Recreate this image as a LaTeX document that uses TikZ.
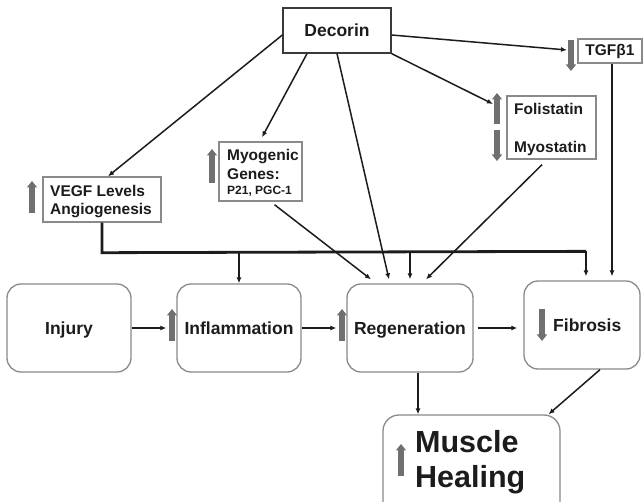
\documentclass[tikz,border=0pt]{standalone}
\usepackage{fontspec}
\setmainfont{Liberation Sans}
\usetikzlibrary{arrows.meta,calc}
\definecolor{ink}{HTML}{1C1C1C}
\definecolor{edgegray}{HTML}{8A8A8A}
\definecolor{boxdark}{HTML}{3A3A3A}
\definecolor{arrowgray}{HTML}{707070}
\newcommand\fsmid{\fontsize{15.5}{18}\selectfont}
\newcommand\fsbig{\fontsize{17.5}{20}\selectfont}
\newcommand\fssmall{\fontsize{12}{14}\selectfont}
\newcommand\fshuge{\fontsize{30.5}{34}\selectfont}
\begin{document}
\begin{tikzpicture}[x=1pt,y=-1pt,
  lbl/.style={font=\bfseries\fsmid, text=ink, inner sep=0pt, anchor=base west},
  sq/.style={draw=edgegray, line width=1.4pt, fill=white, inner sep=0pt},
  rnd/.style={draw=edgegray, line width=1.3pt, rounded corners=14pt, fill=white,
    minimum width=124pt, minimum height=88pt, inner sep=0pt,
    font=\bfseries\fsbig, text=ink, text height=12.5pt, text depth=0pt},
  conn/.style={draw=ink, line width=1.5pt, -{Latex[length=6pt,width=5pt]}},
  bus/.style={draw=ink, line width=2.8pt},
  blk/.style={draw=arrowgray, line width=5.5pt, -{Triangle[width=10pt,length=6.5pt]}},
]
\useasboundingbox (0,0) rectangle (643,502);
\clip (0,0) rectangle (643,502);
\fill[white] (0,0) rectangle (643,502);

% top row of factor boxes
\node[sq, draw=boxdark, line width=1.3pt, minimum width=108pt, minimum height=45pt,
      font=\bfseries\fsbig, text=ink] (dec) at (337,30.5) {Decorin};
\node[sq, minimum width=64pt, minimum height=24pt, font=\bfseries\fsmid, text=ink]
      (tgf) at (610,51) {TGFβ1};
\node[sq, minimum width=89pt, minimum height=63pt] (fol) at (551.5,127.5) {};
\node[lbl] (folt) at (514,114.5) {Folistatin};
\node[lbl] (myot) at (514,152.5) {Myostatin};
\node[sq, minimum width=83pt, minimum height=59pt] (myo) at (260.5,171.5) {};
\node[lbl] (myot1) at (227,161) {Myogenic};
\node[lbl] (myot2) at (227,179.5) {Genes:};
\node[lbl, font=\bfseries\fssmall] (myot3) at (227,195) {P21, PGC-1};
\node[sq, minimum width=118pt, minimum height=45pt] (vegf) at (102,199.5) {};
\node[lbl] (vegft1) at (50,197) {VEGF Levels};
\node[lbl] (vegft2) at (50,215) {Angiogenesis};

% process row
\node[rnd] (inj) at (69,328) {Injury};
\node[rnd] (inf) at (239,328) {Inflammation};
\node[rnd, minimum width=126pt] (reg) at (410,328) {Regeneration};
\node[rnd, minimum width=116pt] (fib) at (582,325) {};
\node[lbl, font=\bfseries\fsbig] (fibt) at (553,331.2) {Fibrosis};

% outcome
\node[rnd, minimum width=177pt, minimum height=110pt, rounded corners=16pt] (mh) at (471.5,470) {};
\node[lbl, font=\bfseries\fshuge] (mht1) at (415,453) {Muscle};
\node[lbl, font=\bfseries\fshuge] (mht2) at (415,488) {Healing};

% up / down indicators
\draw[blk] (32,213) -- (32,181);
\draw[blk] (212,183) -- (212,149);
\draw[blk] (497,124) -- (497,93);
\draw[blk] (497,130) -- (497,161);
\draw[blk] (571,40) -- (571,71);
\draw[blk] (172,341) -- (172,309);
\draw[blk] (342,341) -- (342,309);
\draw[blk] (542,309) -- (542,341);
\draw[blk] (401,476) -- (401,444);

% free ends at the indicator arrows
\coordinate (folup) at (493,104);
\coordinate (tgfin) at (567,50);

% Decorin effects
\draw[conn] ($(dec.west)+(0,4.5)$) -- ($(vegf.north)+(6,0)$);
\draw[conn] ($(dec.south)+(-30,0)$) -- ($(myo.north)+(1.5,-4)$);
\draw[conn] (dec.south) -- ($(reg.north)+(-21,-4)$);
\draw[conn] (dec.south east) -- (folup);
\draw[conn] ($(dec.east)+(0,4.5)$) -- (tgfin);

% VEGF distribution line
\coordinate (busL) at ($(vegf.south)+(0,30)$);
\coordinate (busR) at ($(fib.north)+(4,-29)$);
\draw[bus] (vegf.south) -- (busL) -- (busR);
\draw[conn] (inf.north |- busL) -- (inf.north);
\draw[conn] (reg.north |- busL) -- ($(reg.north)+(0,-4)$);
\draw[conn] (busR) -- ($(fib.north)+(4,-4)$);

\draw[conn] ($(tgf.south)+(2,0)$) -- ($(fib.north)+(30,-4)$);
\draw[conn] ($(myo.south)+(14,3)$) -- ($(reg.north)+(-39,-4)$);
\draw[conn] ($(fol.south)+(-9.5,5)$) -- ($(reg.north)+(16,-4)$);

% main sequence
\coordinate (regout) at ($(reg.south)+(8,0)$);
\draw[conn] (inj.east) -- ($(inf.west)+(-10,0)$);
\draw[conn] (inf.east) -- ($(reg.west)+(-10,0)$);
\draw[conn] ($(reg.east)+(4,0)$) -- ($(fib.west |- reg.east)+(-6,0)$);
\draw[conn] (regout) -- (regout |- mh.north);
\draw[conn] ($(fib.south)+(18,0)$) -- ($(mh.north)+(77,0)$);
\end{tikzpicture}
\end{document}
